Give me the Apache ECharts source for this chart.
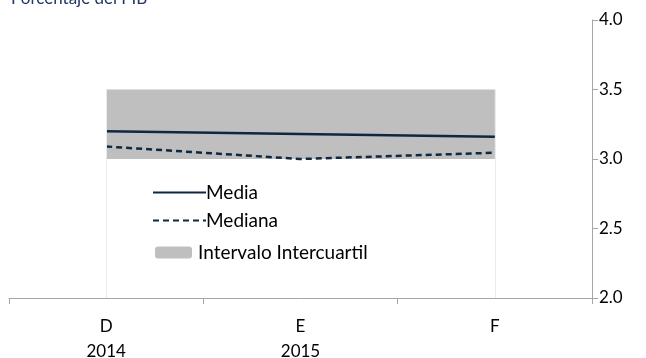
<!DOCTYPE html>
<html>
<head>
<meta charset="utf-8">
<script src="https://cdn.jsdelivr.net/npm/echarts@6/dist/echarts.min.js"></script>
<style>html,body{margin:0;padding:0;background:#fff}#c{width:646px;height:358px}</style>
</head>
<body>
<div id="c"></div>
<script>
var categories = ['D\n2014', 'E\n2015', 'F'];
var media = [3.20, 3.18, 3.16];
var mediana = [3.09, 3.00, 3.045];
var q1 = [3.0, 3.0, 3.0];
var q3 = [3.5, 3.5, 3.5];
var yTicks = [2.0, 2.5, 3.0, 3.5, 4.0];

var bandWidth = q3.map(function (v, i) { return v - q1[i]; });
var FONT = 'Lato, "Open Sans", sans-serif';
var NAVY = '#0E2841';

var chart = echarts.init(document.getElementById('c'));
chart.setOption({
  animation: false,
  title: {
    text: 'Porcentaje del PIB',
    left: 6, top: -15,
    textStyle: { fontFamily: FONT, fontSize: 17, fontWeight: 'normal', color: '#1F3864' }
  },
  grid: { left: 9, right: 54, top: 20, bottom: 60, containLabel: false, outerBoundsMode: 'none' },
  legend: [{
    data: ['Media', 'Mediana'],
    orient: 'vertical', left: 147, top: 178,
    itemWidth: 53, itemHeight: 14, itemGap: 9,
    itemStyle: { opacity: 0 },
    textStyle: { fontFamily: FONT, fontSize: 19, color: '#000', padding: [0, 0, 0, -5] }
  }, {
    data: [{ name: 'Intervalo Intercuartil', icon: 'roundRect' }],
    left: 150, top: 238,
    itemWidth: 37, itemHeight: 12,
    textStyle: { fontFamily: FONT, fontSize: 19, color: '#000', padding: [0, 0, 0, 1] }
  }],
  xAxis: {
    type: 'category',
    data: categories,
    boundaryGap: true,
    axisLine: { lineStyle: { color: '#A6A6A6', width: 1 } },
    axisTick: { show: true, length: 6, lineStyle: { color: '#A6A6A6' } },
    axisLabel: { fontFamily: FONT, fontSize: 17, color: '#000', margin: 16, lineHeight: 25 },
    splitLine: { show: false }
  },
  yAxis: {
    type: 'value',
    position: 'right',
    min: yTicks[0], max: yTicks[yTicks.length - 1], interval: 0.5,
    axisLine: { show: true, lineStyle: { color: '#A6A6A6' } },
    axisTick: { show: true, length: 6, lineStyle: { color: '#A6A6A6' } },
    axisLabel: { fontFamily: FONT, fontSize: 17, color: '#000', margin: 7,
      formatter: function (v) { return v.toFixed(1); } },
    splitLine: { show: false }
  },
  series: [{
    name: 'base', type: 'line', stack: 'band', data: q1,
    symbol: 'none', lineStyle: { width: 0, opacity: 0 }, silent: true,
    markLine: {
      silent: true, symbol: 'none', label: { show: false },
      lineStyle: { color: '#EBEBEB', width: 1, type: 'solid' },
      data: [
        [{ coord: [0, yTicks[0]] }, { coord: [0, q3[0]] }],
        [{ coord: [2, yTicks[0]] }, { coord: [2, q3[2]] }]
      ]
    }
  }, {
    name: 'Intervalo Intercuartil', type: 'line', stack: 'band', data: bandWidth,
    symbol: 'none', lineStyle: { width: 0 },
    itemStyle: { color: '#BFBFBF' },
    areaStyle: { color: '#BFBFBF', opacity: 1 }
  }, {
    name: 'Media', type: 'line', data: media, symbol: 'none',
    itemStyle: { color: NAVY },
    lineStyle: { color: NAVY, width: 2.5 }
  }, {
    name: 'Mediana', type: 'line', data: mediana, symbol: 'none',
    itemStyle: { color: NAVY },
    lineStyle: { color: NAVY, width: 2.5, type: [6, 4] }
  }]
});
</script>
</body>
</html>
